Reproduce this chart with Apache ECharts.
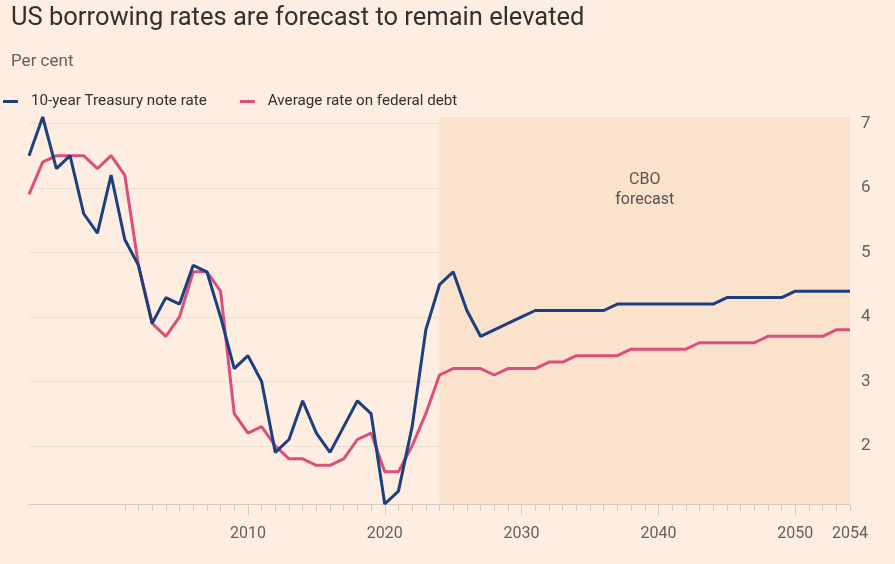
<!DOCTYPE html>
<html>
<head>
<meta charset="utf-8">
<script src="https://cdn.jsdelivr.net/npm/echarts@6/dist/echarts.min.js"></script>
<style>
  html, body { margin: 0; padding: 0; background: #fdeee1; }
  #main { width: 895px; height: 564px; }
</style>
</head>
<body>
<div id="main"></div>
<script>
// first year of both series, one value per year up to 2054
var startYear = 1994;
var treasury10y = [
  6.5, 7.1, 6.3, 6.5, 5.6, 5.3, 6.2, 5.2, 4.8, 3.9,
  4.3, 4.2, 4.8, 4.7, 4.0, 3.2, 3.4, 3.0, 1.9, 2.1,
  2.7, 2.2, 1.9, 2.3, 2.7, 2.5, 1.1, 1.3, 2.3, 3.8,
  4.5, 4.7, 4.1, 3.7, 3.8, 3.9, 4.0, 4.1, 4.1, 4.1,
  4.1, 4.1, 4.1, 4.2, 4.2, 4.2, 4.2, 4.2, 4.2, 4.2,
  4.2, 4.3, 4.3, 4.3, 4.3, 4.3, 4.4, 4.4, 4.4, 4.4,
  4.4
];
var avgDebtRate = [
  5.9, 6.4, 6.5, 6.5, 6.5, 6.3, 6.5, 6.2, 4.8, 3.9,
  3.7, 4.0, 4.7, 4.7, 4.4, 2.5, 2.2, 2.3, 2.0, 1.8,
  1.8, 1.7, 1.7, 1.8, 2.1, 2.2, 1.6, 1.6, 2.0, 2.5,
  3.1, 3.2, 3.2, 3.2, 3.1, 3.2, 3.2, 3.2, 3.3, 3.3,
  3.4, 3.4, 3.4, 3.4, 3.5, 3.5, 3.5, 3.5, 3.5, 3.6,
  3.6, 3.6, 3.6, 3.6, 3.7, 3.7, 3.7, 3.7, 3.7, 3.8,
  3.8
];
var forecastRange = [2024, 2054];
var xLabelYears = [2010, 2020, 2030, 2040, 2050, 2054];
var xTickYears = [2001, 2002, 2003, 2004, 2005, 2006, 2007, 2008, 2009, 2010,
  2011, 2012, 2013, 2014, 2015, 2016, 2017, 2018, 2019, 2020,
  2021, 2022, 2023, 2024, 2025, 2026, 2027, 2028, 2029, 2030,
  2031, 2032, 2033, 2034, 2035, 2036, 2037, 2038, 2039, 2040,
  2041, 2042, 2043, 2044, 2045, 2046, 2047, 2048, 2049, 2050,
  2051, 2052, 2053, 2054];
var yTicks = [2, 3, 4, 5, 6, 7];

function toPairs(values) {
  return values.map(function (v, i) { return [startYear + i, v]; });
}

var textDark = '#33302e';
var textMid = '#66605c';
var font = 'Roboto';

var myChart = echarts.init(document.getElementById('main'));
myChart.setOption({
  backgroundColor: '#fdeee1',
  animation: false,
  title: [
    {
      text: 'US borrowing rates are forecast to remain elevated',
      left: 6, top: 1,
      textStyle: { fontFamily: font, fontWeight: 'normal', fontSize: 25.5, color: textDark }
    },
    {
      text: 'Per cent',
      left: 6, top: 48,
      textStyle: { fontFamily: font, fontWeight: 'normal', fontSize: 17, color: textMid }
    }
  ],
  legend: {
    left: -2, top: 89,
    itemWidth: 15, itemHeight: 3,
    itemGap: 33,
    icon: 'rect',
    data: ['10-year Treasury note rate', 'Average rate on federal debt'],
    textStyle: { fontFamily: font, fontSize: 15.2, color: textDark, padding: [0, 0, 0, 8] }
  },
  grid: { left: 29, right: 45, top: 117, bottom: 60 },
  xAxis: [
    {
      type: 'value', min: 1994, max: 2054,
      axisLine: { show: true, lineStyle: { color: '#d9cabc' } },
      axisTick: { show: true, length: 7, customValues: xTickYears, lineStyle: { color: '#d9cabc' } },
      axisLabel: {
        customValues: xLabelYears, margin: 22,
        fontFamily: font, fontSize: 16, color: textMid,
        formatter: function (v) { return String(v); }
      },
      splitLine: { show: false }
    },
    {
      type: 'value', min: 1994, max: 2054, position: 'bottom',
      axisLine: { show: false },
      axisTick: { show: true, length: 11, customValues: [2010, 2020, 2030, 2040, 2050], lineStyle: { color: '#d9cabc' } },
      axisLabel: { show: false },
      splitLine: { show: false }
    }
  ],
  yAxis: {
    type: 'value', position: 'right', min: 1.1, max: 7.1,
    axisLine: { show: false },
    axisTick: { show: false, customValues: yTicks },
    axisLabel: { customValues: yTicks, margin: 11, fontFamily: font, fontSize: 17, color: textMid },
    splitLine: { show: true, customValues: yTicks, lineStyle: { color: '#f0dfd0', width: 1 } }
  },
  series: [
    {
      name: 'Average rate on federal debt',
      type: 'line',
      data: toPairs(avgDebtRate),
      symbol: 'none',
      lineStyle: { color: '#d9507a', width: 3 },
      itemStyle: { color: '#d9507a' },
      markArea: {
        silent: true,
        itemStyle: { color: '#f9dfc8', opacity: 0.85 },
        label: {
          show: true,
          position: ['50%', 53],
          align: 'center',
          formatter: 'CBO\nforecast',
          fontFamily: font, fontSize: 16, lineHeight: 20, color: '#5a524d'
        },
        data: [[{ xAxis: forecastRange[0] }, { xAxis: forecastRange[1] }]]
      },
      z: 2
    },
    {
      name: '10-year Treasury note rate',
      type: 'line',
      data: toPairs(treasury10y),
      symbol: 'none',
      lineStyle: { color: '#1c3f7e', width: 3 },
      itemStyle: { color: '#1c3f7e' },
      z: 3
    }
  ]
});
</script>
</body>
</html>
